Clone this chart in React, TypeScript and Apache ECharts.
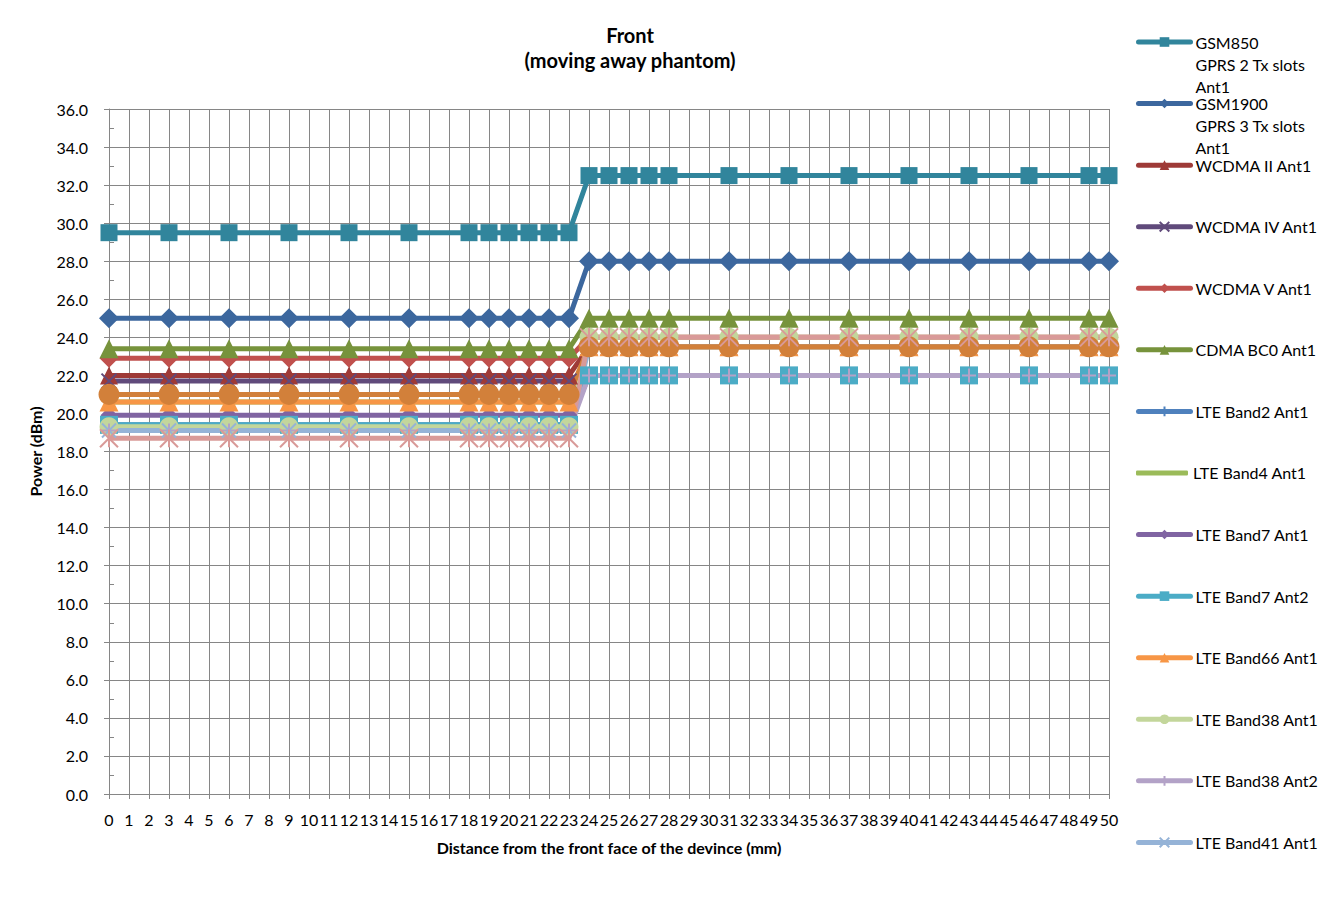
import React, { useEffect, useRef } from "react";
import * as echarts from "echarts";

const FONT = "Lato, 'Open Sans', sans-serif";

// Distance (mm) at which each measurement was taken
const distances = [0, 3, 6, 9, 12, 15, 18, 19, 20, 21, 22, 23, 24, 25, 26, 27, 28, 31, 34, 37, 40, 43, 46, 49, 50];

// Power (dBm) per series, one value per distance above
const gsm850 = [29.5, 29.5, 29.5, 29.5, 29.5, 29.5, 29.5, 29.5, 29.5, 29.5, 29.5, 29.5, 32.5, 32.5, 32.5, 32.5, 32.5, 32.5, 32.5, 32.5, 32.5, 32.5, 32.5, 32.5, 32.5];
const gsm1900 = [25.0, 25.0, 25.0, 25.0, 25.0, 25.0, 25.0, 25.0, 25.0, 25.0, 25.0, 25.0, 28.0, 28.0, 28.0, 28.0, 28.0, 28.0, 28.0, 28.0, 28.0, 28.0, 28.0, 28.0, 28.0];
const wcdma2 = [22.0, 22.0, 22.0, 22.0, 22.0, 22.0, 22.0, 22.0, 22.0, 22.0, 22.0, 22.0, 23.5, 23.5, 23.5, 23.5, 23.5, 23.5, 23.5, 23.5, 23.5, 23.5, 23.5, 23.5, 23.5];
const wcdma4 = [21.7, 21.7, 21.7, 21.7, 21.7, 21.7, 21.7, 21.7, 21.7, 21.7, 21.7, 21.7, 22.0, 22.0, 22.0, 22.0, 22.0, 22.0, 22.0, 22.0, 22.0, 22.0, 22.0, 22.0, 22.0];
const wcdma5 = [22.9, 22.9, 22.9, 22.9, 22.9, 22.9, 22.9, 22.9, 22.9, 22.9, 22.9, 22.9, 24.0, 24.0, 24.0, 24.0, 24.0, 24.0, 24.0, 24.0, 24.0, 24.0, 24.0, 24.0, 24.0];
const cdmaBc0 = [23.4, 23.4, 23.4, 23.4, 23.4, 23.4, 23.4, 23.4, 23.4, 23.4, 23.4, 23.4, 25.0, 25.0, 25.0, 25.0, 25.0, 25.0, 25.0, 25.0, 25.0, 25.0, 25.0, 25.0, 25.0];
const lteB2 = [19.4, 19.4, 19.4, 19.4, 19.4, 19.4, 19.4, 19.4, 19.4, 19.4, 19.4, 19.4, 22.0, 22.0, 22.0, 22.0, 22.0, 22.0, 22.0, 22.0, 22.0, 22.0, 22.0, 22.0, 22.0];
const lteB4 = [20.6, 20.6, 20.6, 20.6, 20.6, 20.6, 20.6, 20.6, 20.6, 20.6, 20.6, 20.6, 23.5, 23.5, 23.5, 23.5, 23.5, 23.5, 23.5, 23.5, 23.5, 23.5, 23.5, 23.5, 23.5];
const lteB7a1 = [19.9, 19.9, 19.9, 19.9, 19.9, 19.9, 19.9, 19.9, 19.9, 19.9, 19.9, 19.9, 22.0, 22.0, 22.0, 22.0, 22.0, 22.0, 22.0, 22.0, 22.0, 22.0, 22.0, 22.0, 22.0];
const lteB7a2 = [19.4, 19.4, 19.4, 19.4, 19.4, 19.4, 19.4, 19.4, 19.4, 19.4, 19.4, 19.4, 22.0, 22.0, 22.0, 22.0, 22.0, 22.0, 22.0, 22.0, 22.0, 22.0, 22.0, 22.0, 22.0];
const lteB66 = [20.6, 20.6, 20.6, 20.6, 20.6, 20.6, 20.6, 20.6, 20.6, 20.6, 20.6, 20.6, 23.5, 23.5, 23.5, 23.5, 23.5, 23.5, 23.5, 23.5, 23.5, 23.5, 23.5, 23.5, 23.5];
const lteB38a1 = [19.3, 19.3, 19.3, 19.3, 19.3, 19.3, 19.3, 19.3, 19.3, 19.3, 19.3, 19.3, 24.0, 24.0, 24.0, 24.0, 24.0, 24.0, 24.0, 24.0, 24.0, 24.0, 24.0, 24.0, 24.0];
const lteB38a2 = [19.1, 19.1, 19.1, 19.1, 19.1, 19.1, 19.1, 19.1, 19.1, 19.1, 19.1, 19.1, 22.0, 22.0, 22.0, 22.0, 22.0, 22.0, 22.0, 22.0, 22.0, 22.0, 22.0, 22.0, 22.0];
const lteB41a1 = [19.1, 19.1, 19.1, 19.1, 19.1, 19.1, 19.1, 19.1, 19.1, 19.1, 19.1, 19.1, 23.5, 23.5, 23.5, 23.5, 23.5, 23.5, 23.5, 23.5, 23.5, 23.5, 23.5, 23.5, 23.5];
const series15 = [21.0, 21.0, 21.0, 21.0, 21.0, 21.0, 21.0, 21.0, 21.0, 21.0, 21.0, 21.0, 23.5, 23.5, 23.5, 23.5, 23.5, 23.5, 23.5, 23.5, 23.5, 23.5, 23.5, 23.5, 23.5];
const series16 = [18.7, 18.7, 18.7, 18.7, 18.7, 18.7, 18.7, 18.7, 18.7, 18.7, 18.7, 18.7, 24.0, 24.0, 24.0, 24.0, 24.0, 24.0, 24.0, 24.0, 24.0, 24.0, 24.0, 24.0, 24.0];

const SYM_X = "path://M0,0L10,10M10,0L0,10";
const SYM_PLUS = "path://M5,0L5,10M0,5L10,5";
const SYM_STAR = "path://M0,0L10,10M10,0L0,10M5,0L5,10";

type Def = {
  name: string;
  label?: string;
  data: number[];
  color: string;
  symbol: string;
  size: number;
  stroke?: boolean;
  legend: boolean;
};

const DEFS: Def[] = [
  { name: "GSM850 GPRS 2 Tx slots Ant1", label: "\n\nGSM850\nGPRS 2 Tx slots\nAnt1", data: gsm850, color: "#31859C", symbol: "rect", size: 17, legend: true },
  { name: "GSM1900 GPRS 3 Tx slots Ant1", label: "\n\nGSM1900\nGPRS 3 Tx slots\nAnt1", data: gsm1900, color: "#3C679E", symbol: "diamond", size: 20, legend: true },
  { name: "WCDMA II Ant1", data: wcdma2, color: "#9E3A37", symbol: "triangle", size: 18, legend: true },
  { name: "WCDMA IV Ant1", data: wcdma4, color: "#604A7B", symbol: SYM_X, size: 15, stroke: true, legend: true },
  { name: "WCDMA V Ant1", data: wcdma5, color: "#C0504D", symbol: "diamond", size: 19, legend: true },
  { name: "CDMA BC0 Ant1", data: cdmaBc0, color: "#77933C", symbol: "triangle", size: 19, legend: true },
  { name: "LTE Band2 Ant1", data: lteB2, color: "#4F81BD", symbol: SYM_PLUS, size: 14, stroke: true, legend: true },
  { name: "LTE Band4 Ant1", data: lteB4, color: "#9BBB59", symbol: "none", size: 0, legend: true },
  { name: "LTE Band7 Ant1", data: lteB7a1, color: "#8064A2", symbol: "diamond", size: 17, legend: true },
  { name: "LTE Band7 Ant2", data: lteB7a2, color: "#4BACC6", symbol: "rect", size: 18, legend: true },
  { name: "LTE Band66 Ant1", data: lteB66, color: "#F79646", symbol: "triangle", size: 19, legend: true },
  { name: "LTE Band38 Ant1", data: lteB38a1, color: "#C3D69B", symbol: "circle", size: 19, legend: true },
  { name: "LTE Band38 Ant2", data: lteB38a2, color: "#B3A2C7", symbol: SYM_PLUS, size: 14, stroke: true, legend: true },
  { name: "LTE Band41 Ant1", data: lteB41a1, color: "#95B3D7", symbol: SYM_X, size: 14, stroke: true, legend: true },
  { name: "Series 15", data: series15, color: "#D2803A", symbol: "circle", size: 21, legend: false },
  { name: "Series 16", data: series16, color: "#D99A98", symbol: SYM_STAR, size: 18, stroke: true, legend: false },
];

const W = 1331;
const H = 940;

export default function App() {
  const ref = useRef<HTMLDivElement>(null);

  useEffect(() => {
    if (!ref.current) return;
    const chart = echarts.init(ref.current, undefined, { renderer: "svg" });

    const axisColor = "#868686";
    const legendDefs = DEFS.filter((d) => d.legend);
    const LH = 22;

    const option: any = {
      animation: false,
      textStyle: { fontFamily: FONT },
      graphic: [
        {
          type: "rect",
          silent: true,
          shape: { x: 0.5, y: 0.5, width: W - 1, height: H - 1 },
          style: { fill: "none", stroke: axisColor, lineWidth: 1 },
        },
        {
          type: "text",
          x: 623,
          y: 29,
          style: { text: "Front", font: `bold 20px ${FONT}`, fill: "#000", align: "center", verticalAlign: "middle", textAlign: "center", textVerticalAlign: "middle" },
        },
        {
          type: "text",
          x: 623,
          y: 54,
          style: { text: "(moving away phantom)", font: `bold 20px ${FONT}`, fill: "#000", align: "center", verticalAlign: "middle", textAlign: "center", textVerticalAlign: "middle" },
        },
      ],
      grid: { left: 102, top: 103, width: 1000, height: 685 },
      xAxis: {
        type: "value",
        min: 0,
        max: 50,
        interval: 1,
        name: "Distance from the front face of the devince (mm)",
        nameLocation: "middle",
        nameGap: 45,
        nameTextStyle: { fontFamily: FONT, fontWeight: "bold", fontSize: 16, color: "#000" },
        axisLine: { show: true, lineStyle: { color: axisColor, width: 1 } },
        axisTick: { show: true, inside: false, length: 5, lineStyle: { color: axisColor } },
        axisLabel: { fontFamily: FONT, fontSize: 16, color: "#000", margin: 17 },
        splitLine: { show: true, lineStyle: { color: axisColor, width: 1 } },
      },
      yAxis: [
        {
          type: "value",
          min: 0,
          max: 36,
          interval: 2,
          name: "Power (dBm)",
          nameLocation: "middle",
          nameGap: 66,
          nameRotate: 90,
          nameTextStyle: { fontFamily: FONT, fontWeight: "bold", fontSize: 16, color: "#000" },
          axisLine: { show: true, lineStyle: { color: axisColor, width: 1 } },
          axisTick: { show: true, inside: false, length: 5, lineStyle: { color: axisColor } },
          axisLabel: { fontFamily: FONT, fontSize: 16, color: "#000", margin: 21, formatter: (v: number) => v.toFixed(1) },
          splitLine: { show: true, lineStyle: { color: axisColor, width: 1 } },
        },
        {
          type: "value",
          min: 0,
          max: 36,
          interval: 1,
          position: "left",
          axisLine: { show: false },
          axisTick: { show: true, inside: true, length: 5, lineStyle: { color: axisColor } },
          axisLabel: { show: false },
          splitLine: { show: false },
        },
      ],
      legend: legendDefs.map((d, k) => {
        const c = 36 + 61.57 * k;
        const multi = !!d.label;
        const noMarker = d.symbol === "none";
        const ih = noMarker ? 5 : 12;
        return {
          orient: "vertical",
          left: 1129,
          top: multi ? c - 2.5 * LH : c - LH / 2,
          padding: 0,
          itemGap: 0,
          itemWidth: 52,
          itemHeight: ih,
          data: noMarker ? [{ name: d.name, icon: "roundRect" }] : [d.name],
          formatter: () => d.label || d.name,
          lineStyle: { width: 5, cap: "round" },
          textStyle: {
            fontFamily: FONT,
            fontSize: 16,
            color: "#000",
            lineHeight: LH,
          },
        };
      }),
      series: DEFS.map((d) => ({
        name: d.name,
        type: "line",
        data: distances.map((x, i) => [x, d.data[i]]),
        symbol: d.symbol,
        symbolSize: d.size,
        showSymbol: d.symbol !== "none",
        clip: false,
        lineStyle: { color: d.color, width: 5 },
        itemStyle: d.stroke
          ? { color: d.color, borderColor: d.color, borderWidth: 2 }
          : { color: d.color, borderWidth: 0 },
        emphasis: { disabled: true },
      })),
    };

    chart.setOption(option);
    return () => chart.dispose();
  }, []);

  return (
    <div
      ref={ref}
      style={{ width: W, height: H, marginLeft: -1, marginTop: -2, background: "#fff" }}
    />
  );
}
